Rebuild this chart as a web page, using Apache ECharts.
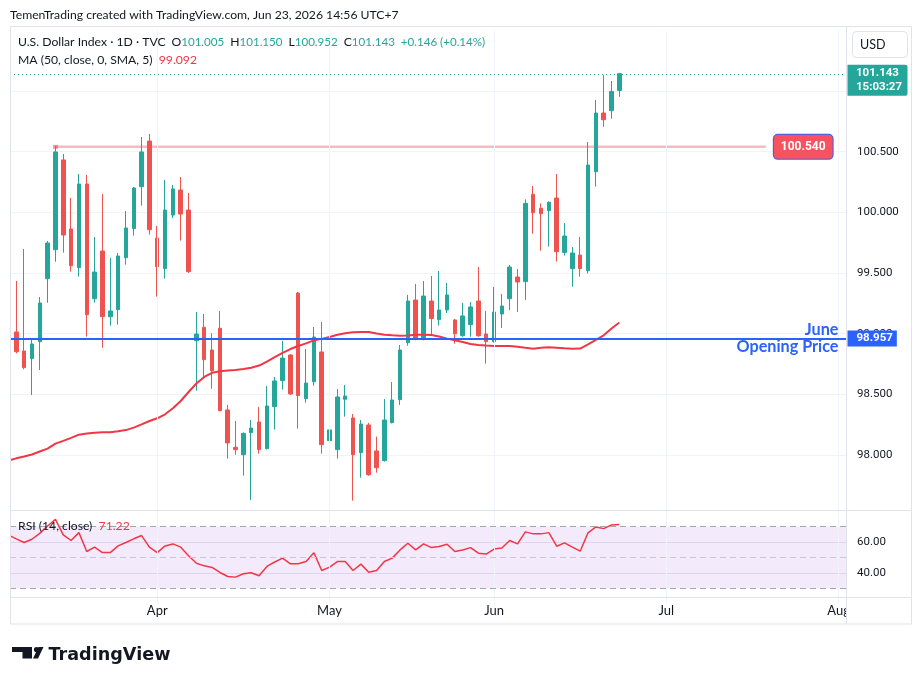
<!DOCTYPE html>
<html>
<head>
<meta charset="utf-8">
<title>U.S. Dollar Index 1D</title>
<script src="https://cdn.jsdelivr.net/npm/echarts@6/dist/echarts.min.js"></script>
<style>
  html, body { margin: 0; padding: 0; background: #fff; }
  #chart { width: 923px; height: 685px; }
</style>
</head>
<body>
<div id="chart"></div>
<script>
// one bar per weekday, bar 0 = 5 Mar 2026, last bar (78) = 23 Jun 2026
const opens = [98.770, 99.014, 98.857, 98.794, 98.934, 99.453, 99.692, 100.432, 99.863, 99.544,
  100.234, 99.288, 99.681, 99.140, 99.198, 99.626, 99.866, 100.212, 100.588, 99.789,
  99.536, 99.978, 100.184, 100.019, 98.942, 99.052, 98.865, 99.044, 98.371, 98.063,
  98.002, 98.184, 98.272, 98.052, 98.398, 98.612, 98.824, 99.335, 98.464, 98.604,
  98.849, 98.118, 98.044, 98.459, 98.305, 98.019, 98.247, 98.033, 97.953, 98.266,
  98.456, 98.926, 99.277, 98.953, 99.269, 99.115, 99.195, 99.113, 98.983, 99.074,
  99.269, 98.997, 98.934, 99.162, 99.288, 99.467, 99.429, 100.149, 100.033, 100.014,
  100.118, 99.668, 99.536, 99.648, 99.519, 100.335, 100.819, 100.838, 101.005];
const highs = [99.100, 99.434, 99.698, 98.948, 99.302, 99.764, 100.547, 100.481, 100.118, 100.316,
  100.308, 99.797, 100.151, 99.624, 99.665, 100.011, 100.209, 100.621, 100.646, 99.888,
  100.267, 100.225, 100.291, 100.160, 99.178, 99.162, 99.003, 99.187, 98.412, 98.280,
  98.185, 98.288, 98.395, 98.568, 98.643, 98.940, 98.830, 99.343, 98.874, 99.055,
  99.096, 98.239, 98.544, 98.577, 98.338, 98.288, 98.264, 98.151, 98.461, 98.601,
  98.906, 99.319, 99.409, 99.434, 99.475, 99.516, 99.418, 99.121, 99.253, 99.261,
  99.549, 99.187, 99.385, 99.327, 99.566, 99.533, 100.107, 100.217, 100.074, 100.090,
  100.316, 99.912, 99.714, 99.797, 100.580, 100.926, 101.132, 101.083, 101.150];
const lows = [98.700, 98.838, 98.706, 98.494, 98.700, 99.255, 99.593, 99.668, 99.511, 99.470,
  98.975, 99.255, 98.884, 99.066, 99.074, 99.569, 99.808, 100.055, 99.816, 99.305,
  99.453, 99.953, 99.767, 99.500, 98.530, 98.632, 98.546, 98.360, 97.970, 98.002,
  97.829, 97.629, 98.011, 98.045, 98.209, 98.538, 98.494, 98.217, 98.431, 98.571,
  98.011, 97.722, 97.970, 98.316, 97.623, 97.813, 97.829, 97.854, 97.945, 98.260,
  98.412, 98.900, 98.945, 98.945, 98.997, 99.066, 99.170, 98.917, 98.975, 98.975,
  98.975, 98.753, 98.926, 99.047, 99.195, 99.178, 99.277, 99.824, 99.684, 99.717,
  99.594, 99.643, 99.387, 99.470, 99.497, 100.212, 100.706, 100.772, 100.952];
const closes = [99.057, 98.851, 98.720, 98.915, 99.253, 99.747, 100.498, 99.813, 99.560, 100.234,
  99.156, 99.508, 99.140, 99.187, 99.640, 99.871, 100.201, 100.498, 99.857, 99.552,
  100.019, 100.193, 99.986, 99.511, 98.997, 98.786, 98.695, 98.365, 98.099, 98.044,
  98.178, 98.222, 98.044, 98.404, 98.610, 98.799, 98.503, 98.489, 98.593, 98.972,
  98.085, 98.206, 98.478, 98.486, 98.002, 98.255, 97.837, 97.895, 98.288, 98.453,
  98.865, 99.269, 98.953, 99.310, 99.124, 99.195, 99.319, 99.000, 99.146, 99.220,
  98.983, 98.934, 99.178, 99.228, 99.549, 99.426, 100.074, 99.997, 99.989, 100.083,
  99.676, 99.805, 99.665, 99.536, 100.390, 100.819, 100.764, 100.997, 101.143];
// MA(50) of close
const ma50 = [97.954, 97.972, 97.987, 98.004, 98.028, 98.052, 98.093, 98.116, 98.141, 98.167,
  98.176, 98.183, 98.187, 98.188, 98.195, 98.205, 98.225, 98.252, 98.280, 98.302,
  98.335, 98.385, 98.445, 98.519, 98.589, 98.643, 98.677, 98.690, 98.696, 98.700,
  98.709, 98.719, 98.737, 98.770, 98.806, 98.842, 98.873, 98.898, 98.920, 98.945,
  98.957, 98.973, 98.991, 99.004, 99.011, 99.014, 99.014, 99.002, 98.991, 98.986,
  98.982, 98.984, 98.991, 98.991, 98.989, 98.976, 98.959, 98.945, 98.931, 98.914,
  98.907, 98.902, 98.899, 98.898, 98.898, 98.892, 98.883, 98.876, 98.883, 98.887,
  98.883, 98.879, 98.876, 98.877, 98.911, 98.949, 98.986, 99.042, 99.092];
// RSI(14)
const rsi14 = [64.5, 62.0, 59.6, 61.7, 65.5, 70.3, 74.6, 64.5, 60.9, 66.0,
  53.8, 56.6, 53.1, 53.1, 57.4, 59.6, 62.0, 64.1, 56.6, 53.1,
  57.4, 58.7, 56.6, 51.0, 46.2, 44.5, 43.5, 40.2, 37.6, 37.2,
  39.4, 40.0, 38.1, 44.1, 47.0, 49.5, 45.8, 45.8, 47.3, 53.0,
  41.5, 43.7, 47.3, 47.3, 41.5, 45.6, 40.4, 41.5, 47.3, 49.5,
  54.8, 59.1, 54.8, 58.7, 56.3, 57.0, 58.5, 53.8, 54.8, 56.3,
  52.7, 52.1, 55.4, 56.1, 60.9, 58.7, 66.5, 65.2, 65.2, 66.0,
  57.2, 59.4, 56.6, 54.0, 65.9, 69.7, 68.6, 71.0, 71.22];

// month ticks (bar index of the first trading day)
const monthTicks = [19, 41, 62, 84, 106];
const monthLabels = ['Apr', 'May', 'Jun', 'Jul', 'Aug'];

// drawings
const levelPrice = 100.54;
const levelSpan = [6, 96.7];      // from bar 6 to just past bar 96
const juneOpen = 98.957;
const rsiLevels = [30, 50, 70];

const UP = '#26a69a', DOWN = '#ef5350', RED = '#f23645', BLUE = '#2962ff';
const TEXT = '#131722', FRAME = '#e0e3eb', GRID = '#f0f3fa';
const UI_FONT = 'Lato, Roboto, sans-serif';
const NUM_FONT = 'Roboto, sans-serif';
const NONE = 'rgba(0,0,0,0)';
const FS = 12.2;

const last = closes.length - 1;
const change = closes[last] - closes[last - 1];
const changePct = change / closes[last - 1] * 100;
const sign = v => (v >= 0 ? '+' : '') + v;

const chart = echarts.init(document.getElementById('chart'));

const X_MIN = 0.2, X_MAX = 107;

const option = {
  animation: false,
  backgroundColor: '#fff',
  grid: [
    { left: 10, width: 836.5, top: 30.4, height: 485.2 },   // price pane
    { left: 10, width: 836.5, top: 511, height: 92.7 }      // rsi pane
  ],
  xAxis: [
    { type: 'value', gridIndex: 0, min: X_MIN, max: X_MAX,
      axisLine: { show: false }, axisTick: { show: false }, axisLabel: { show: false }, splitLine: { show: false } },
    { type: 'value', gridIndex: 1, min: X_MIN, max: X_MAX,
      axisLine: { show: false }, axisTick: { show: false }, splitLine: { show: false },
      axisLabel: {
        customValues: monthTicks,
        formatter: v => monthLabels[monthTicks.indexOf(v)] || '',
        color: TEXT, fontSize: 13, fontFamily: UI_FONT, margin: 1
      } }
  ],
  yAxis: [
    { type: 'value', gridIndex: 0, position: 'right', min: 97.5, max: 101.5, interval: 0.5,
      axisLine: { show: false }, axisTick: { show: false },
      splitLine: { lineStyle: { color: [NONE, GRID, GRID, GRID, GRID, GRID, GRID, GRID, NONE] } },
      axisLabel: {
        margin: 10.5, color: TEXT, fontSize: 11.5, fontFamily: NUM_FONT,
        formatter: v => (v < 97.9 || v > 101.4) ? '' : v.toFixed(3)
      } },
    { type: 'value', gridIndex: 1, position: 'right', min: 20, max: 80, interval: 20,
      axisLine: { show: false }, axisTick: { show: false },
      splitLine: { lineStyle: { color: [NONE, '#ebe4f3', '#ebe4f3', NONE] } },
      axisLabel: {
        margin: 10.5, color: TEXT, fontSize: 11.5, fontFamily: NUM_FONT,
        formatter: v => (v === 40 || v === 60) ? v.toFixed(2) : ''
      } }
  ],
  series: [
    {
      // horizontal level drawn from the March high
      type: 'line', xAxisIndex: 0, yAxisIndex: 0, z: 1, silent: true,
      data: [
        { value: [levelSpan[0], levelPrice], symbol: 'rect', symbolSize: [5, 4] },
        { value: [levelSpan[1], levelPrice], symbol: 'none' }
      ],
      lineStyle: { color: 'rgba(242,54,69,0.35)', width: 2.5 },
      itemStyle: { color: 'rgba(242,54,69,0.5)' },
      endLabel: {
        show: true, distance: 8, formatter: levelPrice.toFixed(3),
        color: '#fff', backgroundColor: '#f7525f', borderColor: BLUE, borderWidth: 1, borderRadius: 4,
        padding: [5, 7], fontSize: 12, fontWeight: 'bold', fontFamily: NUM_FONT, lineHeight: 14
      },
      markLine: {
        silent: true, symbol: ['none', 'none'], label: { show: false },
        lineStyle: { color: GRID, width: 1, type: 'solid' },
        data: monthTicks.map(v => ({ xAxis: v }))
      }
    },
    {
      type: 'candlestick', xAxisIndex: 0, yAxisIndex: 0, z: 2, clip: true,
      data: opens.map((o, i) => [i, o, closes[i], lows[i], highs[i]]),
      encode: { x: 0, y: [1, 2, 3, 4] },
      barWidth: 4,
      itemStyle: { color: UP, color0: DOWN, borderColor: UP, borderColor0: DOWN, borderWidth: 1 }
    },
    {
      type: 'line', xAxisIndex: 0, yAxisIndex: 0, z: 3, silent: true,
      data: ma50.map((v, i) => [i, v]),
      symbol: 'none', lineStyle: { color: RED, width: 2 },
      markLine: {
        silent: true, symbol: ['none', 'none'],
        data: [
          { yAxis: closes[last], lineStyle: { color: UP, width: 1, type: [1, 3] }, label: { show: false } },
          { yAxis: juneOpen, lineStyle: { color: BLUE, width: 2, type: 'solid' },
            label: { show: true, position: 'insideEnd', distance: 8, formatter: 'June\nOpening Price',
              color: BLUE, fontSize: 16.2, fontWeight: 'bold', fontFamily: UI_FONT, lineHeight: 16.5, align: 'right' } },
          { yAxis: juneOpen, lineStyle: { color: BLUE, width: 2, type: 'solid' },
            label: { show: true, position: 'end', distance: 1, formatter: juneOpen.toFixed(3),
              color: '#fff', backgroundColor: BLUE, padding: [1, 4, 1, 9],
              fontSize: 11.5, fontWeight: 'bold', fontFamily: NUM_FONT, lineHeight: 14 } }
        ]
      }
    },
    {
      type: 'line', xAxisIndex: 1, yAxisIndex: 1, z: 3, silent: true,
      data: rsi14.map((v, i) => [i, v]),
      symbol: 'none', lineStyle: { color: RED, width: 1.5 },
      markArea: {
        silent: true, itemStyle: { color: 'rgba(150,60,230,0.11)' },
        data: [[{ yAxis: rsiLevels[0] }, { yAxis: rsiLevels[2] }]]
      },
      markLine: {
        silent: true, symbol: ['none', 'none'], label: { show: false },
        data: [
          ...monthTicks.map(v => ({ xAxis: v, lineStyle: { color: GRID, width: 1, type: 'solid' } })),
          ...rsiLevels.map(v => ({ yAxis: v, lineStyle: { color: v === 50 ? '#c9c9cf' : '#a3a6af', width: 1, type: [6, 4] } }))
        ]
      }
    }
  ]
};

chart.setOption(option);

// last price tag next to the price scale
const yLast = chart.convertToPixel({ yAxisIndex: 0 }, closes[last]);

const txt = (x, y, text, opts) => ({
  type: 'text', x: x, y: y, z: 100,
  style: Object.assign({ text: text, fill: TEXT, fontSize: FS, fontFamily: UI_FONT, verticalAlign: 'middle' }, opts || {})
});
const rich = {
  t: { fill: TEXT, fontSize: FS, fontFamily: UI_FONT },
  u: { fill: UP, fontSize: 11.6, fontFamily: UI_FONT },
  r: { fill: RED, fontSize: FS, fontFamily: UI_FONT }
};

chart.setOption({
  graphic: [
    // frame
    { type: 'rect', z: 90, shape: { x: 0, y: 26, width: 10, height: 600 }, style: { fill: '#fff' } },
    { type: 'rect', z: 90, shape: { x: 847, y: 598, width: 64.5, height: 25.5 }, style: { fill: '#fff' } },
    { type: 'rect', z: 95, shape: { x: 10.5, y: 26.5, width: 901, height: 597.5 }, style: { fill: 'none', stroke: FRAME, lineWidth: 1 } },
    { type: 'line', z: 95, shape: { x1: 846.5, y1: 26.5, x2: 846.5, y2: 624 }, style: { stroke: FRAME, lineWidth: 1 } },
    { type: 'line', z: 95, shape: { x1: 10.5, y1: 510.5, x2: 911.5, y2: 510.5 }, style: { stroke: FRAME, lineWidth: 1 } },
    { type: 'line', z: 95, shape: { x1: 10.5, y1: 597.5, x2: 911.5, y2: 597.5 }, style: { stroke: FRAME, lineWidth: 1 } },

    // header
    txt(10, 15, 'TemenTrading created with TradingView.com, Jun 23, 2026 14:56 UTC+7'),
    txt(18, 42, '{t|U.S. Dollar Index · 1D · TVC}  {t|O}{u|' + opens[last].toFixed(3) + '}  {t|H}{u|' + highs[last].toFixed(3) +
      '}  {t|L}{u|' + lows[last].toFixed(3) + '}  {t|C}{u|' + closes[last].toFixed(3) + '}  {u|' +
      sign(change.toFixed(3)) + ' (' + sign(changePct.toFixed(2)) + '%)}', { rich: rich, fontSize: 11.5 }),
    txt(18, 60, '{t|MA (50, close, 0, SMA, 5)}  {r|' + ma50[last].toFixed(3) + '}', { rich: rich }),
    txt(18, 526, '{t|RSI (14, close)}  {r|' + rsi14[last].toFixed(2) + '}', { rich: rich }),

    // currency box
    { type: 'rect', z: 100, shape: { x: 852.5, y: 31.5, width: 55, height: 26, r: 4 }, style: { fill: '#fff', stroke: FRAME, lineWidth: 1 } },
    txt(860, 44.5, 'USD', { fontSize: 12.5 }),

    // last price tag
    { type: 'rect', z: 100, shape: { x: 847.5, y: yLast - 9, width: 60, height: 31, r: [0, 2, 2, 0] }, style: { fill: UP } },
    txt(856, yLast - 0.5, closes[last].toFixed(3), { fill: '#fff', fontSize: 11.5, fontWeight: 'bold', fontFamily: NUM_FONT }),
    txt(856, yLast + 13, '15:03:27', { fill: '#fff', fontSize: 11.5, fontWeight: 'bold', fontFamily: NUM_FONT }),

    // TradingView logo
    { type: 'polygon', z: 100, shape: { points: [[12, 647], [32, 647], [32, 658.5], [22.5, 658.5], [22.5, 652], [12, 652]] }, style: { fill: TEXT } },
    { type: 'circle', z: 100, shape: { cx: 36.5, cy: 649.6, r: 2.6 }, style: { fill: TEXT } },
    { type: 'polygon', z: 100, shape: { points: [[33, 658.5], [38, 658.5], [43.5, 647], [38.5, 647]] }, style: { fill: TEXT } },
    txt(48.5, 655, 'TradingView', { fontSize: 17.6, fontWeight: 'bold', fontFamily: '"DejaVu Sans", sans-serif' })
  ]
});
</script>
</body>
</html>
